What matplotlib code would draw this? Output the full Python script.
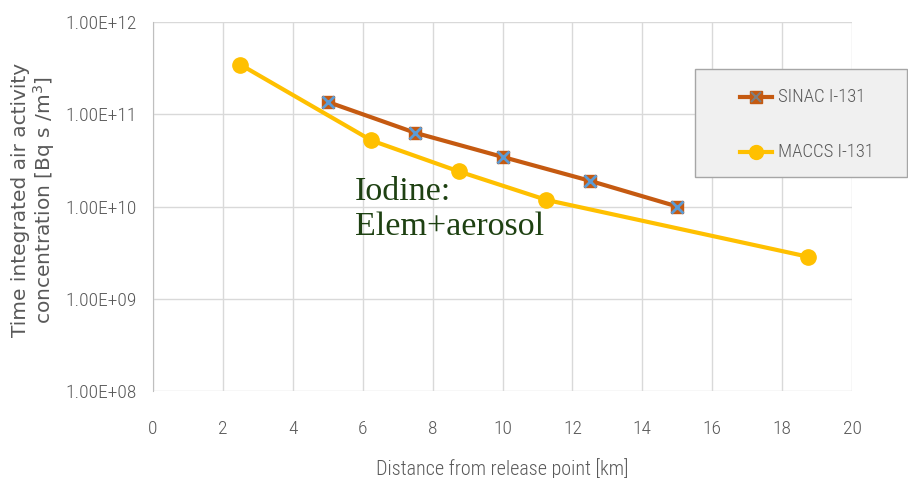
import matplotlib
matplotlib.use("Agg")
import matplotlib.pyplot as plt
from matplotlib.ticker import FixedLocator, FixedFormatter, NullLocator
from matplotlib.patches import Rectangle
from matplotlib.lines import Line2D

sinac_x = [5, 7.5, 10, 12.5, 15]
sinac_y = [1.36e11, 6.3e10, 3.45e10, 1.9e10, 1.0e10]
maccs_x = [2.5, 6.25, 8.75, 11.25, 18.75]
maccs_y = [3.45e11, 5.2e10, 2.4e10, 1.18e10, 2.85e9]
xticks = [0, 2, 4, 6, 8, 10, 12, 14, 16, 18, 20]
yticks = [1e8, 1e9, 1e10, 1e11, 1e12]
ytick_labels = ["1.00E+08", "1.00E+09", "1.00E+10", "1.00E+11", "1.00E+12"]

narrow = ["Roboto Condensed", "DejaVu Sans"]
gray = "#595959"

fig = plt.figure(figsize=(9.08, 4.78), dpi=100)
ax = fig.add_axes([153/908, 1-391/478, (852-153)/908, (391-22)/478])
ax.set_yscale("log")
ax.set_xlim(0, 20)
ax.set_ylim(1e8, 1e12)

ax.plot(sinac_x, sinac_y, color="#C55A11", lw=3, zorder=3, label="SINAC I-131",
        marker="s", ms=9, mfc="#C55A11", mec="#C55A11")
ax.plot(sinac_x, sinac_y, ls="none", marker="x", ms=8, mew=2, color="#5B9BD5", zorder=4)
ax.plot(maccs_x, maccs_y, color="#FFC000", lw=3, zorder=2, label="MACCS I-131",
        marker="o", ms=11, mfc="#FFC000", mec="#FFC000")

ax.xaxis.set_major_locator(FixedLocator(xticks))
ax.yaxis.set_major_locator(FixedLocator(yticks))
ax.yaxis.set_major_formatter(FixedFormatter(ytick_labels))
ax.yaxis.set_minor_locator(NullLocator())
ax.grid(True, color="#d9d9d9", lw=1)
ax.set_axisbelow(True)
for s in ["top", "right", "bottom"]:
    ax.spines[s].set_visible(False)
ax.spines["left"].set_color("#bfbfbf")
ax.tick_params(length=0, colors=gray, labelsize=14)
ax.tick_params(axis="y", pad=12)
ax.tick_params(axis="x", pad=21)
for lab in ax.get_xticklabels() + ax.get_yticklabels():
    lab.set_family(narrow)
    lab.set_fontweight(300)

ax.set_xlabel("Distance from release point [km]", family=narrow, fontsize=14.5,
              color=gray, labelpad=14, fontweight=300)
fig.text(34/908, 1-200/478, "Time integrated air activity\nconcentration [Bq s /m$^3$]",
         rotation=90, ha="center", va="center", color=gray, fontsize=14.5,
         linespacing=1.05)

ax.text(355/908, 1-176/478, "Iodine:\nElem+aerosol", transform=fig.transFigure,
        family=["Liberation Serif"], fontsize=24.5, color="#1E4112", va="top", ha="left",
        linespacing=1.2)

# legend box
fig.patches.append(Rectangle((695/908, 1-177/478), 212/908, 108/478,
                             transform=fig.transFigure, facecolor="#f0f0f0",
                             edgecolor="#a6a6a6", lw=1))
def leg_entry(y, color, marker, ms, label, xmark=False):
    fig.lines.append(Line2D([740/908, 772/908], [1-y/478]*2, transform=fig.transFigure,
                            color=color, lw=3))
    fig.lines.append(Line2D([756/908], [1-y/478], transform=fig.transFigure,
                            marker=marker, ms=ms, color=color, ls="none"))
    if xmark:
        fig.lines.append(Line2D([756/908], [1-y/478], transform=fig.transFigure,
                                marker="x", ms=7, mew=1.5, color="#7f7f7f", ls="none"))
    fig.text(778/908, 1-y/478, label, family=narrow, fontsize=13.5, color=gray,
             va="center", ha="left", fontweight=300)
leg_entry(97, "#C55A11", "s", 9, "SINAC I-131", xmark=True)
leg_entry(152, "#FFC000", "o", 10, "MACCS I-131")

fig.savefig("out.png", dpi=100)
